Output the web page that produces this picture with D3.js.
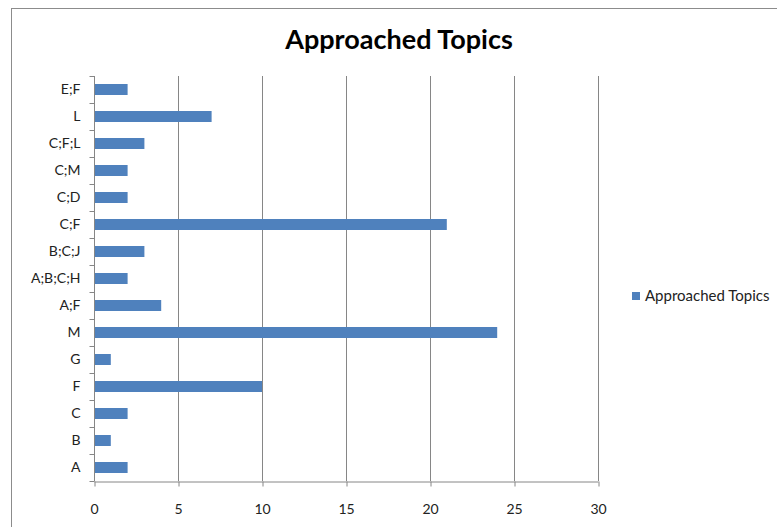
<!DOCTYPE html>
<html>
<head>
<meta charset="utf-8">
<script src="https://cdn.jsdelivr.net/npm/d3@7/dist/d3.min.js"></script>
<style>
  html, body { margin: 0; padding: 0; background: #fff; }
  svg { display: block; font-family: Lato, "Open Sans", sans-serif; }
</style>
</head>
<body>
<svg id="chart" width="777" height="527"></svg>
<script>
// Topic combinations, listed bottom to top
const categories = ["A", "B", "C", "F", "G", "M", "A;F", "A;B;C;H", "B;C;J", "C;F", "C;D", "C;M", "C;F;L", "L", "E;F"];
const counts = [2, 1, 2, 10, 1, 24, 4, 2, 3, 21, 2, 2, 3, 7, 2];
const xTicks = [0, 5, 10, 15, 20, 25, 30];
const seriesName = "Approached Topics";
const chartTitle = "Approached Topics";

const svg = d3.select("#chart");
const barColor = "#4F81BD";
const gridColor = "#868686";
const labelSize = 14;

// chart frame
svg.append("rect")
  .attr("x", 11.5).attr("y", 8.5)
  .attr("width", 800).attr("height", 600)
  .attr("fill", "#fff").attr("stroke", "#8c8c8c").attr("stroke-width", 1);

const plot = { left: 94, right: 598, top: 76, bottom: 481 };

const x = d3.scaleLinear().domain([0, 30]).range([plot.left, plot.right]);
const yBand = d3.scaleBand().domain(categories.slice().reverse()).range([plot.top, plot.bottom]);

// vertical gridlines
svg.append("g").selectAll("line")
  .data(xTicks.slice(1))
  .join("line")
  .attr("x1", d => Math.round(x(d)) + 0.5).attr("x2", d => Math.round(x(d)) + 0.5)
  .attr("y1", plot.top).attr("y2", plot.bottom)
  .attr("stroke", gridColor).attr("stroke-width", 1);

// bars
svg.append("g").selectAll("rect")
  .data(categories.map((c, i) => ({ c, v: counts[i] })))
  .join("rect")
  .attr("x", x(0))
  .attr("y", d => yBand(d.c) + (yBand.bandwidth() - 11) / 2)
  .attr("width", d => x(d.v) - x(0))
  .attr("height", 11)
  .attr("fill", barColor);

// x axis
const xAxis = svg.append("g")
  .attr("transform", `translate(0,${plot.bottom + 0.5})`)
  .call(d3.axisBottom(x).tickValues(xTicks).tickSize(5).tickPadding(18).tickSizeOuter(0));
xAxis.select(".domain").attr("stroke", gridColor);
xAxis.selectAll(".tick line").attr("stroke", gridColor).attr("transform", "translate(0.5,0)");
xAxis.selectAll("text").attr("font-family", "Lato, sans-serif").attr("font-size", labelSize).attr("fill", "#222");

// y axis: ticks at category boundaries
const yAxis = svg.append("g").attr("transform", `translate(${plot.left + 0.5},0)`);
yAxis.append("line")
  .attr("y1", plot.top).attr("y2", plot.bottom)
  .attr("stroke", gridColor);
const bounds = d3.range(categories.length + 1).map(i => plot.top + i * yBand.step());
yAxis.selectAll(".bt").data(bounds).join("line")
  .attr("x1", -5).attr("x2", 0)
  .attr("y1", d => Math.round(d) + 0.5).attr("y2", d => Math.round(d) + 0.5)
  .attr("stroke", gridColor);
yAxis.selectAll("text").data(categories).join("text")
  .attr("x", -14)
  .attr("y", d => yBand(d) + yBand.bandwidth() / 2)
  .attr("dy", "0.35em")
  .attr("text-anchor", "end")
  .attr("font-size", labelSize).attr("fill", "#222")
  .text(d => d);

// title
svg.append("text")
  .attr("x", 399).attr("y", 49)
  .attr("text-anchor", "middle")
  .attr("font-weight", "bold").attr("font-size", 27).attr("fill", "#000")
  .text(chartTitle);

// legend
const lg = svg.append("g").attr("transform", "translate(632,292)");
lg.append("rect").attr("width", 8).attr("height", 8).attr("fill", barColor);
lg.append("text").attr("x", 13).attr("y", 4).attr("dy", "0.35em")
  .attr("font-size", 15).attr("fill", "#222").text(seriesName);
</script>
</body>
</html>
